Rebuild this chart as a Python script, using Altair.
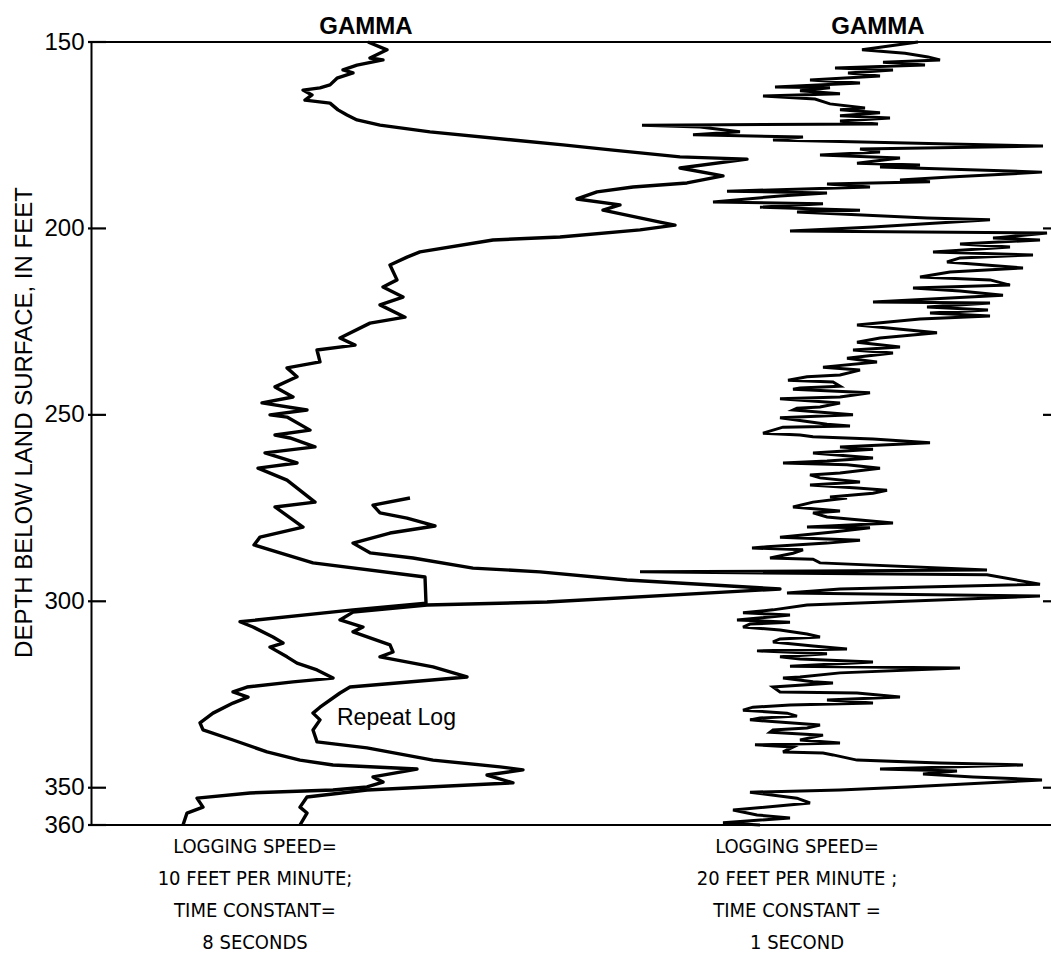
import altair as alt
import pandas as pd

# Gamma log, 10 ft/min logging speed, 8-second time constant
slow_depth = [150.0, 152.1, 154.3, 154.8, 156.2, 157.5, 158.3, 159.7, 161.5, 162.3,
              162.9, 164.2, 165.6, 166.4, 168.2, 169.6, 170.9, 172.3, 174.1, 176.3,
              177.6, 179.0, 180.8, 181.4, 183.8, 185.9, 187.8, 188.9, 190.2, 192.1,
              193.7, 195.1, 198.3, 199.1, 200.4, 202.3, 203.1, 206.3, 207.7, 209.8,
              213.8, 215.7, 218.4, 220.5, 223.8, 225.4, 229.4, 231.3, 232.6, 235.8,
              237.4, 239.8, 242.5, 245.2, 246.8, 248.7, 250.0, 250.6, 254.1, 255.4,
              256.2, 258.6, 260.2, 262.9, 264.3, 267.5, 273.4, 274.7, 280.1, 282.8,
              284.9, 287.0, 289.7, 293.5, 300.5, 302.3, 305.5, 306.9, 309.6, 311.2,
              312.3, 314.9, 316.6, 318.4, 320.6, 321.6, 323.0, 324.3, 325.7, 327.3,
              330.0, 332.6, 334.5, 337.2, 340.4, 342.6, 343.9, 345.0, 347.1, 348.5,
              349.8, 350.6, 351.4, 352.8, 355.2, 356.8, 360.0]
slow_gamma = [277, 296, 279, 292, 266, 252, 262, 246, 239, 229,
              212, 221, 214, 239, 247, 256, 266, 289, 339, 422,
              472, 522, 589, 656, 589, 632, 596, 542, 506, 486,
              529, 512, 569, 584, 549, 469, 402, 329, 316, 299,
              306, 292, 312, 289, 314, 279, 249, 264, 226, 229,
              196, 206, 184, 202, 171, 216, 179, 196, 219, 184,
              199, 224, 174, 206, 167, 196, 224, 184, 212, 169,
              163, 189, 222, 334, 335, 262, 149, 162, 182, 192,
              179, 196, 206, 226, 242, 202, 156, 142, 157, 142,
              122, 109, 112, 142, 176, 209, 242, 326, 282, 292,
              276, 242, 159, 106, 112, 96, 92]

# Repeat run of the same log over the lower interval
repeat_depth = [272.3, 274.2, 276.3, 277.7, 279.8, 281.7, 284.4, 287.0, 288.4, 291.1,
                292.1, 294.3, 296.7, 300.2, 301.0, 302.9, 305.0, 306.9, 308.2, 311.7,
                313.6, 314.9, 317.6, 320.3, 323.0, 324.6, 328.4, 330.0, 331.8, 334.5,
                337.7, 339.3, 342.6, 344.4, 345.2, 346.6, 348.7, 350.6, 352.5, 355.2,
                356.8, 360.0]
repeat_gamma = [319, 282, 289, 316, 344, 299, 262, 279, 322, 382,
                449, 536, 689, 456, 336, 262, 249, 272, 262, 299,
                302, 289, 342, 376, 259, 249, 229, 222, 229, 222,
                226, 276, 342, 409, 432, 396, 422, 276, 216, 209,
                216, 209]

# Gamma log, 20 ft/min logging speed, 1-second time constant
fast_depth = [150.0, 152.1, 153.0, 154.0, 154.8, 155.4, 156.2, 157.0, 157.5, 158.3,
              159.1, 160.2, 161.0, 162.1, 162.3, 163.1, 163.9, 164.5, 165.3, 166.6,
              167.7, 168.2, 169.0, 169.8, 170.4, 171.2, 172.0, 172.3, 172.8, 174.1,
              174.9, 175.5, 176.3, 177.9, 178.7, 179.5, 180.3, 181.1, 182.5, 183.0,
              183.5, 184.9, 186.2, 187.0, 187.5, 188.1, 188.9, 190.0, 190.5, 191.3,
              192.9, 193.4, 194.3, 195.1, 195.6, 197.2, 197.7, 199.6, 200.7, 201.2,
              202.6, 203.1, 204.2, 205.0, 206.3, 207.1, 207.9, 209.0, 210.6, 211.7,
              213.0, 213.8, 215.2, 216.0, 216.8, 217.9,
              219.7, 220.0, 221.1, 221.9, 222.7, 223.5, 224.3, 225.9, 228.0, 229.4,
              230.5, 231.8, 232.6, 233.4, 234.8, 235.8, 237.2, 238.0, 239.3, 239.8,
              240.7, 241.2, 242.3, 242.8, 243.1, 244.1, 245.2, 245.7, 246.8, 247.9,
              248.2, 248.7, 250.0, 250.8, 252.5, 253.0, 253.3, 254.9, 255.4, 255.9,
              256.5, 257.5, 258.6, 259.2, 260.2, 261.6, 262.4, 262.9, 263.4, 264.3,
              265.6, 266.1, 266.9, 268.0, 268.8, 269.6, 270.2, 271.0, 272.0, 272.3,
              273.4, 274.7, 275.8, 276.3, 277.4, 279.0, 280.1, 280.3, 281.4, 282.8,
              283.6, 284.4, 285.4, 285.7, 286.2, 287.1, 288.4, 288.7, 289.7,
              291.6, 292.1, 292.9, 295.4, 296.7, 297.8, 298.6,
              301.0, 302.3, 303.1, 303.7, 305.0, 305.6, 306.1, 306.9, 307.7, 308.8,
              309.6, 310.1, 310.9, 312.0, 312.8, 313.3, 314.1, 314.9, 315.5, 316.3,
              317.4, 317.9, 319.2, 320.3, 320.6, 321.6, 321.9, 323.0, 324.3, 324.6,
              325.7, 326.5, 327.3, 327.8, 328.4, 329.2, 330.0, 330.8, 331.3, 331.8,
              333.2, 334.0, 334.5, 335.1, 335.9, 337.2, 338.0, 338.5, 339.1, 340.4,
              340.7, 341.2, 342.6,
              343.4, 343.9, 345.0, 345.5, 346.3, 347.1, 347.9, 349.8, 350.6, 351.2,
              352.8, 354.1, 356.0, 357.3, 358.1, 359.4, 360.0]
fast_gamma = [827, 771, 814, 837, 849, 792, 834, 744, 802, 757,
              789, 719, 769, 684, 739, 709, 749, 672, 724, 739,
              774, 749, 789, 749, 799, 749, 787, 551, 609, 649,
              602, 712, 682, 952, 769, 789, 729, 809, 766, 829,
              789, 951, 859, 809, 839, 736, 779, 636, 736, 689,
              622, 732, 669, 769, 706, 836, 899, 782, 699, 956,
              902, 949, 869, 919, 842, 942, 869, 856, 932, 859,
              829, 899, 919, 822, 869, 912,
              782, 899, 836, 897, 839, 899, 829, 766, 846, 789,
              766, 809, 762, 802, 756, 786, 732, 769, 749, 716,
              697, 742, 749, 709, 702, 779, 749, 689, 749, 729,
              706, 702, 762, 689, 736, 759, 692, 672, 709, 722,
              782, 839, 749, 782, 722, 782, 736, 692, 756, 789,
              749, 719, 729, 769, 719, 766, 796, 782, 739, 756,
              722, 702, 749, 722, 736, 802, 716, 779, 742, 689,
              769, 736, 676, 661, 712, 702, 679, 722, 729,
              896, 549, 896, 949, 749, 696, 949,
              716, 682, 652, 699, 646, 699, 659, 652, 689, 716,
              729, 689, 682, 722, 756, 666, 736, 689, 709, 782,
              699, 869, 749, 709, 692, 722, 742, 682, 689, 766,
              809, 736, 782, 699, 662, 652, 696, 706, 669, 659,
              729, 716, 682, 679, 732, 709, 749, 664, 702, 692,
              732, 742, 766,
              849, 932, 789, 866, 832, 882, 951, 816, 749, 659,
              706, 719, 642, 666, 699, 632, 669]

depth_ticks = [150, 200, 250, 300, 350, 360]
inner_ticks = [200, 250, 300, 350]
frame_depths = [150, 360]

header_gamma = [275, 787]
header_text = ["GAMMA", "GAMMA"]

note_gamma = [164, 706]
note_lines = [
    ["LOGGING SPEED=", "10 FEET PER MINUTE;", "TIME CONSTANT=", "8 SECONDS"],
    ["LOGGING SPEED=", "20 FEET PER MINUTE ;", "TIME CONSTANT =", "1 SECOND"],
]

label_gamma = 246
label_depth = 331.3
label_text = "Repeat Log"

SANS = "'Liberation Sans', Arial, Helvetica, sans-serif"
NARROW = "'Liberation Sans Narrow', 'DejaVu Sans Condensed', 'Liberation Sans', sans-serif"


def trace_frame(depths, gammas):
    return pd.DataFrame({"depth": depths, "gamma": gammas, "seq": range(len(depths))})


x_enc = alt.X("gamma:Q", scale=alt.Scale(domain=[0, 960], nice=False, zero=False), axis=None)
y_scale = alt.Scale(domain=[150, 360], reverse=True, nice=False, zero=False)
y_enc = alt.Y(
    "depth:Q",
    scale=y_scale,
    axis=alt.Axis(
        values=depth_ticks,
        ticks=False,
        tickSize=0,
        grid=False,
        domainColor="black",
        domainWidth=2,
        labelFont=SANS,
        labelFontSize=24,
        labelColor="black",
        labelPadding=7,
        title="DEPTH BELOW LAND SURFACE, IN FEET",
        titleFont=SANS,
        titleFontSize=24,
        titleFontWeight="normal",
        titleColor="black",
        titleX=-60,
        titleY=380,
        titleAngle=270,
        titleAlign="center",
        titleBaseline="alphabetic",
    ),
)
y_plain = alt.Y("depth:Q", scale=y_scale)

slow = alt.Chart(trace_frame(slow_depth, slow_gamma)).mark_line(
    color="black", strokeWidth=3.4, strokeJoin="round"
).encode(x=x_enc, y=y_enc, order="seq:Q")

repeat = alt.Chart(trace_frame(repeat_depth, repeat_gamma)).mark_line(
    color="black", strokeWidth=3.4, strokeJoin="round"
).encode(x=x_enc, y=y_plain, order="seq:Q")

fast = alt.Chart(trace_frame(fast_depth, fast_gamma)).mark_line(
    color="black", strokeWidth=3.0, strokeJoin="miter"
).encode(x=x_enc, y=y_plain, order="seq:Q")

frame = alt.Chart(pd.DataFrame({"depth": frame_depths})).mark_rule(
    color="black", strokeWidth=2.2
).encode(y=y_plain)

left_ticks = alt.Chart(pd.DataFrame({"depth": depth_ticks})).mark_rule(
    color="black", strokeWidth=2.2
).encode(y=y_plain, x=alt.value(-3), x2=alt.value(15))

right_ticks = alt.Chart(pd.DataFrame({"depth": inner_ticks})).mark_rule(
    color="black", strokeWidth=2.2
).encode(y=y_plain, x=alt.value(952), x2=alt.value(960))

headers = alt.Chart(pd.DataFrame({"gamma": header_gamma, "text": header_text})).mark_text(
    font=SANS, fontSize=24, fontWeight="bold", color="black", baseline="alphabetic", align="center"
).encode(x=x_enc, y=alt.value(-8), text="text:N")

notes = alt.Chart(pd.DataFrame({"gamma": note_gamma, "lines": note_lines})).mark_text(
    font=NARROW, fontSize=20, color="black", baseline="middle", align="center", lineHeight=32
).encode(x=x_enc, y=alt.value(805), text="lines")

repeat_label = alt.Chart(pd.DataFrame({"gamma": [label_gamma], "depth": [label_depth], "text": [label_text]})).mark_text(
    font=SANS, fontSize=23, color="black", baseline="middle", align="left"
).encode(x=x_enc, y=y_plain, text="text:N")

chart = alt.layer(
    frame, left_ticks, right_ticks, slow, repeat, fast, headers, notes, repeat_label
).properties(
    width=960,
    height=783,
    autosize=alt.AutoSizeParams(type="none"),
    padding={"left": 91, "top": 42, "right": 0, "bottom": 132},
    background="white",
).configure_view(stroke=None)

chart.save("out.html", embed_options={"renderer": "svg", "actions": False})
